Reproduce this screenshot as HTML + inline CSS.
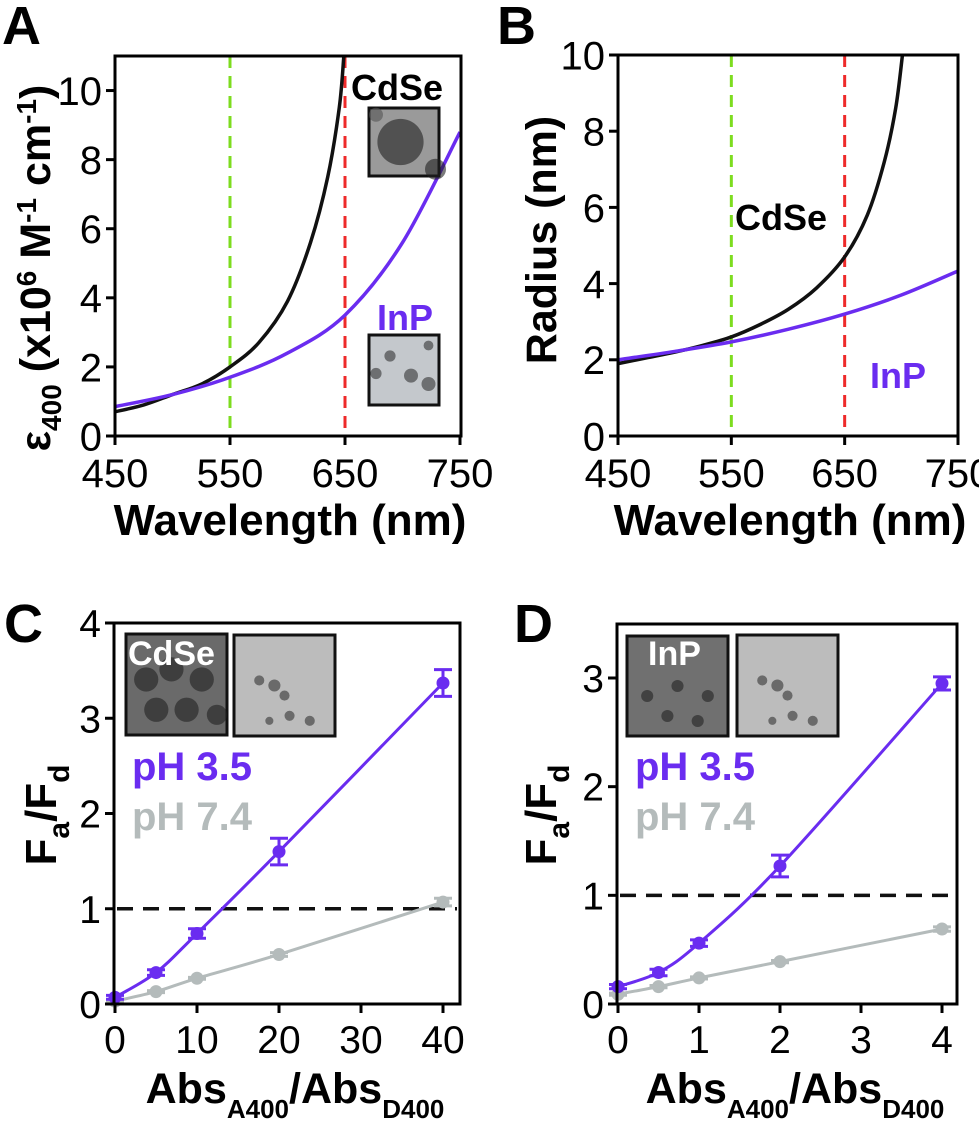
<!DOCTYPE html>
<html><head><meta charset="utf-8"><style>
html,body{margin:0;padding:0;background:#fff}
svg{display:block;font-family:"Liberation Sans",Arial,sans-serif}
</style></head><body>
<svg id="fig" width="979" height="1123" viewBox="0 0 979 1123" xmlns="http://www.w3.org/2000/svg"></svg>
<script>
// ---- Panel A data ----
const aCdseX=[450,475,500,525,550,575,600,620,635,645,649];
const aCdseY=[0.7,0.9,1.2,1.5,2.0,2.7,3.9,5.6,7.5,9.5,11];
const aInpX=[450,500,550,600,650,700,750];
const aInpY=[0.85,1.2,1.7,2.4,3.5,5.6,8.8];
const aYTicks=[0,2,4,6,8,10];
const wlTicks=[450,550,650,750];
// ---- Panel B data ----
const bCdseX=[450,475,500,525,550,575,600,625,650,670,685,695,701];
const bCdseY=[1.9,2.05,2.2,2.38,2.6,2.92,3.32,3.88,4.7,5.8,7.2,8.6,10];
const bInpX=[450,500,550,600,650,700,750];
const bInpY=[2.0,2.22,2.47,2.8,3.2,3.7,4.33];
const bYTicks=[0,2,4,6,8,10];
// ---- Panel C data ----
const cX=[0,5,10,20,40];
const cAcid=[0.07,0.33,0.74,1.6,3.37];
const cAcidErr=[0.02,0.03,0.05,0.14,0.14];
const cNeut=[0.03,0.13,0.27,0.52,1.07];
const cNeutErr=[0.01,0.01,0.01,0.02,0.04];
const cXTicks=[0,10,20,30,40];
const cYTicks=[0,1,2,3,4];
// ---- Panel D data ----
const dX=[0,0.5,1,2,4];
const dAcid=[0.16,0.29,0.56,1.27,2.95];
const dAcidErr=[0.02,0.03,0.03,0.1,0.06];
const dNeut=[0.09,0.16,0.24,0.39,0.69];
const dNeutErr=[0.01,0.01,0.01,0.01,0.02];
const dXTicks=[0,1,2,3,4];
const dYTicks=[0,1,2,3];

const NS="http://www.w3.org/2000/svg";
const svg=document.getElementById('fig');
const PUR="#6a2cf0", GRY="#b4bbbb";
function el(tag,attrs,parent){const e=document.createElementNS(NS,tag);for(const k in attrs)e.setAttribute(k,attrs[k]);(parent||svg).appendChild(e);return e;}
function txt(s,x,y,size,opts,parent){const t=el('text',Object.assign({x:x,y:y,'font-size':size},opts||{}),parent);t.textContent=s;return t;}
function lin(d0,d1,r0,r1){return v=>r0+(v-d0)/(d1-d0)*(r1-r0);}
function smooth(xs,ys,sx,sy){
  const p=xs.map((x,i)=>[sx(x),sy(ys[i])]);
  let d='M'+p[0][0]+','+p[0][1];
  for(let i=0;i<p.length-1;i++){
    const p0=p[i-1]||p[i],p1=p[i],p2=p[i+1],p3=p[i+2]||p2;
    const c1=[p1[0]+(p2[0]-p0[0])/6,p1[1]+(p2[1]-p0[1])/6];
    const c2=[p2[0]-(p3[0]-p1[0])/6,p2[1]-(p3[1]-p1[1])/6];
    d+=' C'+c1[0]+','+c1[1]+' '+c2[0]+','+c2[1]+' '+p2[0]+','+p2[1];
  }
  return d;
}
function axes(g,L,R,T,B,sx,sy,xt,yt,fs,xBase){
  const box=el('rect',{x:L,y:T,width:R-L,height:B-T,fill:'none',stroke:'#000','stroke-width':3},g);
  
  
  xt.forEach(v=>{
    el('line',{x1:sx(v),x2:sx(v),y1:B,y2:B+9,stroke:'#000','stroke-width':3},g);
    const t=txt(v,sx(v),xBase,fs,{'text-anchor':'middle'},g);
    
    
  });
  yt.forEach(v=>{
    el('line',{x1:L-9,x2:L,y1:sy(v),y2:sy(v),stroke:'#000','stroke-width':3},g);
    const t=txt(v,L-13,sy(v)+fs*0.36,fs,{'text-anchor':'end'},g);
    
    
  });
}
function tem(g,x,y,w,h,bg,spots,name){
  const r=el('rect',{x:x,y:y,width:w,height:h,fill:bg,stroke:'#111','stroke-width':3},g);
  
  
  spots.forEach(s=>el('circle',{cx:x+s[0]*w,cy:y+s[1]*h,r:s[2]*w,fill:s[3]||'#333','fill-opacity':0.6},g));
}
function label(g,s,x,y,name){const t=txt(s,x,y,54,{'font-weight':'bold'},g);}

// ===== Panel A =====
(function(){
  const g=el('g',{});
  const L=115,R=461,T=56,B=436;
  const sx=lin(450,750,L,R-1), sy=lin(0,11,B,T);
  label(g,'A',2,44,'panel-label-a');
  el('line',{x1:sx(550),x2:sx(550),y1:T,y2:B,stroke:'#7ddc1f','stroke-width':3,'stroke-dasharray':'12,8'},g);
  el('line',{x1:sx(650),x2:sx(650),y1:T,y2:B,stroke:'#ee2a2a','stroke-width':3,'stroke-dasharray':'12,8'},g);
  const cl=el('clipPath',{id:'clipA'},g);
  el('rect',{x:L,y:T,width:R-L,height:B-T},cl);
  const c1=el('path',{d:smooth(aCdseX,aCdseY,sx,sy),fill:'none',stroke:'#111','stroke-width':3.5,'clip-path':'url(#clipA)'},g);
  
  const c2=el('path',{d:smooth(aInpX,aInpY,sx,sy),fill:'none',stroke:PUR,'stroke-width':3.5,'clip-path':'url(#clipA)'},g);
  
  axes(g,L,R,T,B,sx,sy,wlTicks,aYTicks,40,487);
  const t1=txt('CdSe',351,100,36,{'font-weight':'bold'},g);
  tem(g,369,108,70,68,'#9a9a9a',[[0.45,0.5,0.33,'#222'],[0.95,0.9,0.15,'#222'],[0.1,0.1,0.1,'#555']],'cdse-tem-image');
  const t2=txt('InP',377,330,36,{'font-weight':'bold',fill:PUR},g);
  tem(g,369,335,70,70,'#c4c8cc',[[0.3,0.3,0.08],[0.6,0.58,0.1],[0.85,0.7,0.1],[0.1,0.55,0.08],[0.85,0.15,0.07]],'inp-tem-image');
  const xt=txt('Wavelength (nm)',290,535,44,{'font-weight':'bold','text-anchor':'middle'},g);
  const yt=el('text',{transform:'translate(50,268) rotate(-90)','text-anchor':'middle','font-size':43,'font-weight':'bold'},g);
  
  yt.innerHTML='ε<tspan font-size="28" dy="11">400</tspan><tspan dy="-11"> (x10</tspan><tspan font-size="28" dy="-14">6</tspan><tspan dy="14"> M</tspan><tspan font-size="28" dy="-14">-1</tspan><tspan dy="14"> cm</tspan><tspan font-size="28" dy="-14">-1</tspan><tspan dy="14">)</tspan>';
})();

// ===== Panel B =====
(function(){
  const g=el('g',{});
  const L=618,R=958,T=55,B=436;
  const sx=lin(450,750,L,R), sy=lin(0,10,B,T);
  label(g,'B',497,44,'panel-label-b');
  el('line',{x1:sx(550),x2:sx(550),y1:T,y2:B,stroke:'#7ddc1f','stroke-width':3,'stroke-dasharray':'12,8'},g);
  el('line',{x1:sx(650),x2:sx(650),y1:T,y2:B,stroke:'#ee2a2a','stroke-width':3,'stroke-dasharray':'12,8'},g);
  const c1=el('path',{d:smooth(bCdseX,bCdseY,sx,sy),fill:'none',stroke:'#111','stroke-width':3.5},g);
  
  const c2=el('path',{d:smooth(bInpX,bInpY,sx,sy),fill:'none',stroke:PUR,'stroke-width':3.5},g);
  
  axes(g,L,R,T,B,sx,sy,wlTicks,bYTicks,40,487);
  const t1=txt('CdSe',735,230,36,{'font-weight':'bold'},g);
  const t2=txt('InP',870,388,36,{'font-weight':'bold',fill:PUR},g);
  const xt=txt('Wavelength (nm)',790,535,44,{'font-weight':'bold','text-anchor':'middle'},g);
  const yt=txt('Radius (nm)',0,0,43,{'font-weight':'bold','text-anchor':'middle',transform:'translate(556,240) rotate(-90)'},g);
  
})();

function fPanel(id,ox,L,R,T,B,sx,sy,xs,acid,acidErr,neut,neutErr,xt,yt,letter,inset1,off2,tx){
  const g=el('g',{});
  label(g,letter,ox,642,'panel-label-'+id);
  el('line',{x1:L+3,x2:R-3,y1:sy(1),y2:sy(1),stroke:'#111','stroke-width':3.5,'stroke-dasharray':'16,10'},g);
  [[neut,neutErr,GRY,'ph74'],[acid,acidErr,PUR,'ph35']].forEach(([ys,es,col,nm])=>{
    const p=el('path',{d:smooth(xs,ys,sx,sy),fill:'none',stroke:col,'stroke-width':3},g);
    
    xs.forEach((x,i)=>{
      const cx=sx(x),y1=sy(ys[i]+es[i]),y2=sy(ys[i]-es[i]);
      el('line',{x1:cx,x2:cx,y1:y1,y2:y2,stroke:col,'stroke-width':3},g);
      el('line',{x1:cx-9,x2:cx+9,y1:y1,y2:y1,stroke:col,'stroke-width':3},g);
      el('line',{x1:cx-9,x2:cx+9,y1:y2,y2:y2,stroke:col,'stroke-width':3},g);
      const c=el('circle',{cx:cx,cy:sy(ys[i]),r:6.5,fill:col},g);
      
    });
  });
  axes(g,L,R,T,B,sx,sy,xt,yt,39,1053);
  inset1(g);
  tem(g,off2,635,101,101,'#bcbcbc',[[0.25,0.45,0.05],[0.4,0.5,0.06],[0.5,0.6,0.05],[0.55,0.8,0.05],[0.75,0.85,0.05],[0.35,0.85,0.04]],'ph74-tem-image');
  const a=txt('pH 3.5',L+18,780,40,{'font-weight':'bold',fill:PUR},g);
  const b=txt('pH 7.4',L+18,830,40,{'font-weight':'bold',fill:GRY},g);
  const xtl=el('text',{x:(L+R)/2+8,y:1103,'text-anchor':'middle','font-size':43,'font-weight':'bold'},g);
  
  xtl.innerHTML='Abs<tspan font-size="26" dy="15">A400</tspan><tspan dy="-15">/Abs</tspan><tspan font-size="26" dy="15">D400</tspan>';
  const ytl=el('text',{transform:'translate('+tx+',815) rotate(-90)','text-anchor':'middle','font-size':44,'font-weight':'bold'},g);
  
  ytl.innerHTML='F<tspan font-size="30" dy="13">a</tspan><tspan dy="-13">/F</tspan><tspan font-size="30" dy="13">d</tspan>';
}
// ===== Panel C =====
(function(){
  const L=114,R=460,T=623,B=1004;
  const sx=lin(0,40,L+1,443), sy=lin(0,4,B,T);
  const ins=function(g){
    tem(g,126,634,101,101,'#6a6a6a',[[0.2,0.45,0.12,'#222'],[0.45,0.35,0.12,'#222'],[0.75,0.45,0.12,'#222'],[0.3,0.75,0.12,'#222'],[0.6,0.75,0.12,'#222'],[0.9,0.8,0.1,'#222']],'cdse-tem-image');
    const t=txt('CdSe',128,665,34,{'font-weight':'bold',fill:'#fff'},g);
  };
  fPanel('c',4,L,R,T,B,sx,sy,cX,cAcid,cAcidErr,cNeut,cNeutErr,cXTicks,cYTicks,'C',ins,234,56);
})();
// ===== Panel D =====
(function(){
  const L=617,R=957,T=624,B=1004;
  const sx=lin(0,4,618,942), sy=lin(0,3,B,678);
  const ins=function(g){
    tem(g,627,636,101,100,'#707070',[[0.2,0.6,0.06,'#222'],[0.5,0.5,0.06,'#222'],[0.8,0.6,0.06,'#222'],[0.4,0.8,0.06,'#222'],[0.7,0.85,0.06,'#222']],'inp-tem-image');
    const t=txt('InP',648,665,34,{'font-weight':'bold',fill:'#fff'},g);
  };
  fPanel('d',514,L,R,T,B,sx,sy,dX,dAcid,dAcidErr,dNeut,dNeutErr,dXTicks,dYTicks,'D',ins,737,556);
})();
</script>
</body></html>
